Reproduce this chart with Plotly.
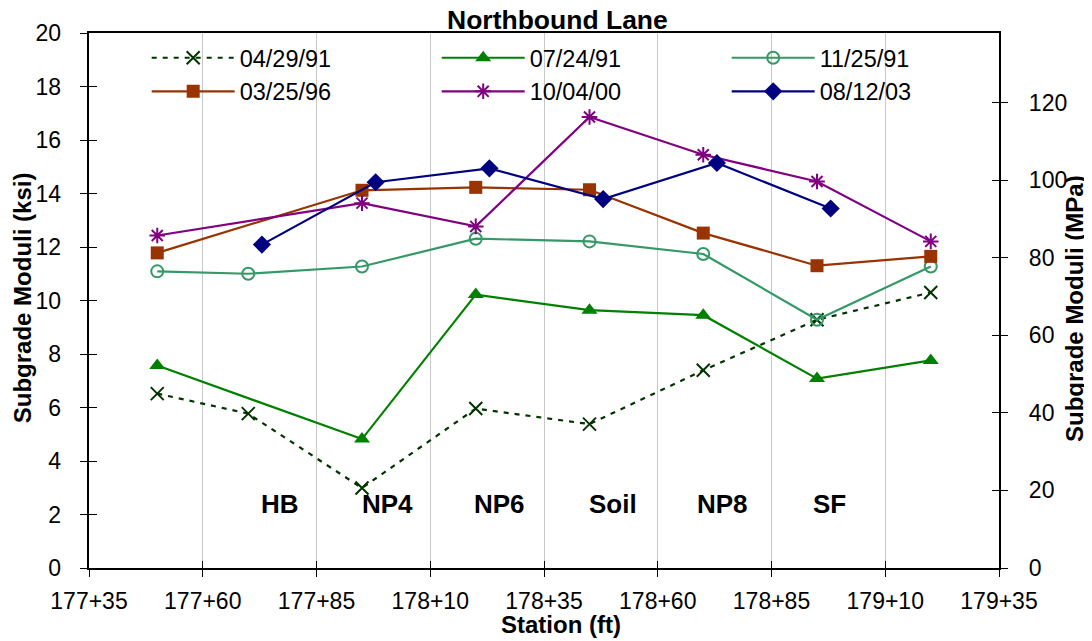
import plotly.graph_objects as go

# ---------------- data ----------------
x_tick_vals = [17735, 17760, 17785, 17810, 17835, 17860, 17885, 17910, 17935]
x_tick_text = ["177+35", "177+60", "177+85", "178+10", "178+35",
               "178+60", "178+85", "179+10", "179+35"]

st_all = [17750, 17770, 17795, 17820, 17845, 17870, 17895, 17920]
st_7 = [17750, 17795, 17820, 17845, 17870, 17895, 17920]
st_0803 = [17773, 17798, 17823, 17848, 17873, 17898]

v_042991 = [6.52, 5.77, 2.99, 5.96, 5.38, 7.39, 9.28, 10.30]
v_072491 = [7.57, 4.82, 10.22, 9.64, 9.45, 7.08, 7.76]
v_112591 = [11.09, 11.00, 11.27, 12.31, 12.21, 11.74, 9.28, 11.27]
v_032596 = [11.78, 14.12, 14.23, 14.14, 12.52, 11.30, 11.65]
v_100400 = [12.43, 13.64, 12.77, 16.86, 15.45, 14.45, 12.21]
v_081203 = [12.09, 14.42, 14.94, 13.79, 15.14, 13.44]

section_labels = ["HB", "NP4", "NP6", "Soil", "NP8", "SF"]
section_x = [17777, 17800.5, 17825.3, 17850.2, 17874.3, 17897.8]
section_y = 2.38

KSI_TO_MPA = 6.895
y_max_ksi = 20
mpa_ticks = [0, 20, 40, 60, 80, 100, 120]

FONT = "Arial, 'Liberation Sans', sans-serif"

fig = go.Figure()

def add(name, xs, ys, color, symbol, size, dash="solid", line_marker=False):
    marker = dict(symbol=symbol, size=size, color=color)
    if line_marker:
        marker.update(line=dict(color=color, width=2))
    else:
        marker.update(line=dict(color=color, width=0))
    fig.add_trace(go.Scatter(
        x=xs, y=ys, name=name, mode="lines+markers",
        line=dict(color=color, width=2.2, dash=dash),
        marker=marker, cliponaxis=False))

add("04/29/91", st_all, v_042991, "#003300", "x-thin", 13, dash="5px,6px", line_marker=True)
add("07/24/91", st_7, v_072491, "#008000", "triangle-up", 14)
add("11/25/91", st_all, v_112591, "#339966", "circle-open", 12, line_marker=True)
add("03/25/96", st_7, v_032596, "#993300", "square", 13)
add("10/04/00", st_7, v_100400, "#800080", "asterisk", 13, line_marker=True)
add("08/12/03", st_0803, v_081203, "#000080", "diamond", 14)

# invisible helper traces so that overlay axes are drawn
inv = dict(mode="markers", marker=dict(opacity=0, size=1), showlegend=False,
           hoverinfo="skip")
fig.add_trace(go.Scatter(x=st_all, y=[v * KSI_TO_MPA for v in v_042991], yaxis="y2", **inv))
fig.add_trace(go.Scatter(x=st_all, y=v_042991, yaxis="y3", **inv))
fig.add_trace(go.Scatter(x=st_all, y=[v * KSI_TO_MPA for v in v_042991], yaxis="y4", **inv))
fig.add_trace(go.Scatter(x=st_all, y=v_042991, xaxis="x2", **inv))

tickfont = dict(family=FONT, size=23, color="black")

# page body has an 8px default margin, so the figure is 8px smaller each way
fig.update_layout(
    width=1084, height=633,
    margin=dict(l=81, r=93, t=25, b=73),
    paper_bgcolor="white", plot_bgcolor="white",
    font=dict(family=FONT, color="black"),
    showlegend=True,
    legend=dict(
        orientation="h", x=0.0634, y=0.9944, xanchor="left", yanchor="top",
        xref="paper", yref="paper",
        bgcolor="rgba(0,0,0,0)", borderwidth=0,
        font=dict(family=FONT, size=23.5, color="black"),
        entrywidth=192, entrywidthmode="pixels", itemwidth=83,
        traceorder="normal", itemclick=False, itemdoubleclick=False,
    ),
    xaxis=dict(
        range=[x_tick_vals[0], x_tick_vals[-1]], tickmode="array",
        tickvals=x_tick_vals, ticktext=x_tick_text,
        ticks="outside", ticklen=7, tickcolor="black", tickwidth=1,
        showgrid=True, gridcolor="#c8c8c8", gridwidth=1,
        showline=True, linecolor="black", linewidth=1.5, mirror=True,
        zeroline=False, tickfont=tickfont, ticklabelstandoff=5,
    ),
    xaxis2=dict(
        range=[x_tick_vals[0], x_tick_vals[-1]], overlaying="x", anchor="y",
        tickmode="array", tickvals=x_tick_vals, ticks="inside", ticklen=7,
        tickcolor="black", showticklabels=False, showgrid=False,
        showline=False, zeroline=False,
    ),
    yaxis=dict(
        range=[0, y_max_ksi], dtick=2, tick0=0,
        ticks="outside", ticklen=7.5, tickcolor="black", tickwidth=1,
        showgrid=False, showline=True, linecolor="black", linewidth=1.5,
        zeroline=False, tickfont=tickfont, ticklabelstandoff=14,
    ),
    yaxis2=dict(
        range=[0, y_max_ksi * KSI_TO_MPA], overlaying="y", side="right",
        tickmode="array", tickvals=mpa_ticks,
        ticks="outside", ticklen=7.5, tickcolor="black", tickwidth=1,
        showgrid=False, showline=True, linecolor="black", linewidth=1.5,
        zeroline=False, tickfont=tickfont, ticklabelstandoff=16,
    ),
    yaxis3=dict(
        range=[0, y_max_ksi], dtick=2, tick0=0, overlaying="y", side="left",
        ticks="inside", ticklen=7.5, tickcolor="black", showticklabels=False,
        showgrid=False, showline=False, zeroline=False,
    ),
    yaxis4=dict(
        range=[0, y_max_ksi * KSI_TO_MPA], overlaying="y", side="right",
        tickmode="array", tickvals=mpa_ticks, ticks="inside", ticklen=7.5,
        tickcolor="black", showticklabels=False,
        showgrid=False, showline=False, zeroline=False,
    ),
)

# white backdrop behind legend (hides gridlines, stays under traces)
fig.add_shape(type="rect", xref="paper", yref="paper",
              x0=0.056, x1=0.919, y0=0.854, y1=0.987,
              fillcolor="white", line=dict(width=0), layer="between")

# title and axis titles
fig.add_annotation(text="<b>Northbound Lane</b>", xref="paper", yref="paper",
                   x=0.5148, y=1.0235, xanchor="center", yanchor="middle",
                   showarrow=False, borderpad=0,
                   font=dict(family=FONT, size=26.5, color="black"))
fig.add_annotation(text="<b>Station (ft)</b>", xref="paper", yref="paper",
                   x=0.5185, y=-0.105, xanchor="center", yanchor="middle",
                   showarrow=False, borderpad=0,
                   font=dict(family=FONT, size=24, color="black"))
fig.add_annotation(text="<b>Subgrade Moduli (ksi)</b>", xref="paper", yref="paper",
                   x=-0.0722, y=0.5047, xanchor="center", yanchor="middle",
                   textangle=-90, showarrow=False,
                   font=dict(family=FONT, size=24, color="black"))
fig.add_annotation(text="<b>Subgrade Moduli (MPa)</b>", xref="paper", yref="paper",
                   x=1.0835, y=0.486, xanchor="center", yanchor="middle",
                   textangle=-90, showarrow=False,
                   font=dict(family=FONT, size=24, color="black"))

# section labels
for lab, sx in zip(section_labels, section_x):
    fig.add_annotation(text="<b>" + lab + "</b>", x=sx, y=section_y,
                       xref="x", yref="y", showarrow=False,
                       xanchor="center", yanchor="middle",
                       font=dict(family=FONT, size=26, color="black"))

fig.write_html("out.html")
